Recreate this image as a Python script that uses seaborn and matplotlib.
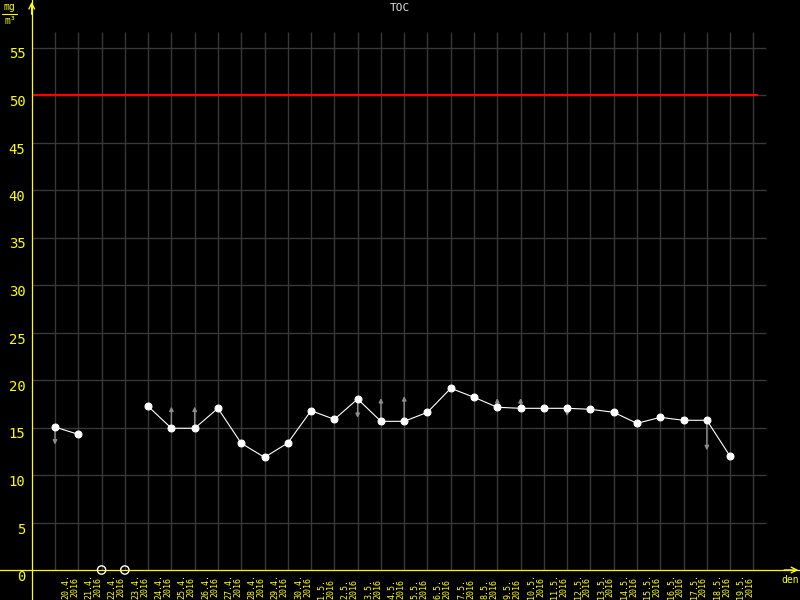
import numpy as np
import pandas as pd
import matplotlib
matplotlib.use('Agg')
import matplotlib.pyplot as plt
import seaborn as sns

# data
dates = ['20.4.', '21.4.', '22.4.', '23.4.', '24.4.', '25.4.', '26.4.', '27.4.', '28.4.', '29.4.', '30.4.',
         '1.5.', '2.5.', '3.5.', '4.5.', '5.5.', '6.5.', '7.5.', '8.5.', '9.5.', '10.5.',
         '11.5.', '12.5.', '13.5.', '14.5.', '15.5.', '16.5.', '17.5.', '18.5.', '19.5.']
nan = np.nan
toc = [15.05, 14.28, nan, nan, 17.23, 14.92, 14.92, 17.02, 13.34, 11.86, 13.37,
       16.77, 15.86, 18.0, 15.65, 15.65, 16.6, 19.13, 18.18, 17.13, 17.02,
       17.02, 17.02, 16.92, 16.6, 15.44, 16.07, 15.76, 15.76, 11.97]
# where the small gray arrows end
arrow_to = [13.2, nan, nan, nan, nan, 17.2, 17.2, nan, nan, nan, nan,
            nan, nan, 16.0, 18.1, 18.3, nan, nan, nan, 18.1, 18.1,
            16.5, 16.2, nan, nan, nan, 15.6, 15.5, 12.6, nan]
limit = 50
year = '2016'
yticks = list(range(0, 60, 5))

df = pd.DataFrame({'i': range(len(dates)), 'toc': toc, 'arrow': arrow_to})
df['seg'] = df['toc'].isna().cumsum()

sns.set_style('dark', {'axes.facecolor': 'black', 'figure.facecolor': 'black'})
plt.rcParams['font.family'] = ['DejaVu Sans Mono']

yellow = '#ffff00'
grid = '#383838'

fig = plt.figure(figsize=(8, 6), dpi=100)
ax = fig.add_axes([0, 0, 1, 1])
ax.set_xlim(-55 / 23.28, 745 / 23.28)
ax.set_ylim(-30 / 9.5, 570 / 9.5)

# grid
ax.hlines(yticks[1:], -1, 30.54, color=grid, lw=1, zorder=1)
ax.vlines(range(len(dates) + 1), 0, 56.6, color=grid, lw=1, zorder=1)

# limit line
ax.hlines(limit, -1, 30.2, color='#ff0000', lw=1.6, zorder=2)

# arrows
for _, r in df.dropna(subset=['arrow']).iterrows():
    ax.annotate('', xy=(r['i'], r['arrow']), xytext=(r['i'], r['toc']),
                arrowprops=dict(arrowstyle='-|>', color='#8c8c8c', lw=1,
                                mutation_scale=6, shrinkA=0, shrinkB=0),
                zorder=3)

sns.lineplot(data=df.dropna(subset=['toc']), x='i', y='toc', units='seg', estimator=None,
             color='white', lw=0.8, marker='o', markersize=5, markeredgecolor='white',
             ax=ax, zorder=4, legend=False)

miss = df[df['toc'].isna()]['i']
ax.scatter(miss, np.zeros(len(miss)), s=36, facecolors='none', edgecolors='white',
           lw=1, zorder=5, clip_on=False)

# axes
for s in ['top', 'right']:
    ax.spines[s].set_visible(False)
ax.spines['left'].set_position(('data', -1))
ax.spines['bottom'].set_position(('data', 0))
for s in ['left', 'bottom']:
    ax.spines[s].set_color(yellow)
    ax.spines[s].set_linewidth(0.9)
ax.set_xticks(range(len(dates) + 1))
ax.set_yticks(yticks)
ax.tick_params(axis='both', colors=yellow, length=3, width=0.9, direction='out')
ax.tick_params(axis='x', labelbottom=False)
ax.tick_params(axis='y', labelsize=10, pad=1.5, labelcolor=yellow)
plt.setp(ax.get_yticklabels(), va='top')
ax.set_xlabel('')
ax.set_ylabel('')
ax.grid(False)

ax.annotate('', xy=(-1, 60.1), xytext=(-1, 58.2),
            arrowprops=dict(arrowstyle='->', color=yellow, lw=1, mutation_scale=10),
            annotation_clip=False)
ax.annotate('', xy=(32.05, 0), xytext=(31.2, 0),
            arrowprops=dict(arrowstyle='->', color=yellow, lw=1, mutation_scale=10),
            annotation_clip=False)

for i, d in enumerate(dates):
    ax.text(i + 0.66, -3.1, d + '\n' + year, rotation=90, ha='center', va='bottom',
            color=yellow, fontsize=6, linespacing=1.0, clip_on=False)

fig.text(790 / 800, 1 - 580 / 600, 'den', ha='center', va='center', color=yellow, fontsize=7)
fig.text(0.5, 1 - 8 / 600, 'TOC', ha='center', va='center', color='#e0e0e0', fontsize=8)

# unit label
fig.text(9 / 800, 1 - 7 / 600, 'mg', ha='center', va='center', color=yellow, fontsize=7)
fig.add_artist(plt.Line2D([2 / 800, 17 / 800], [1 - 13.5 / 600] * 2, color=yellow, lw=0.8))
fig.text(10 / 800, 1 - 21 / 600, 'm³', ha='center', va='center', color=yellow, fontsize=7)

fig.savefig('out.png', dpi=100, facecolor='black')
